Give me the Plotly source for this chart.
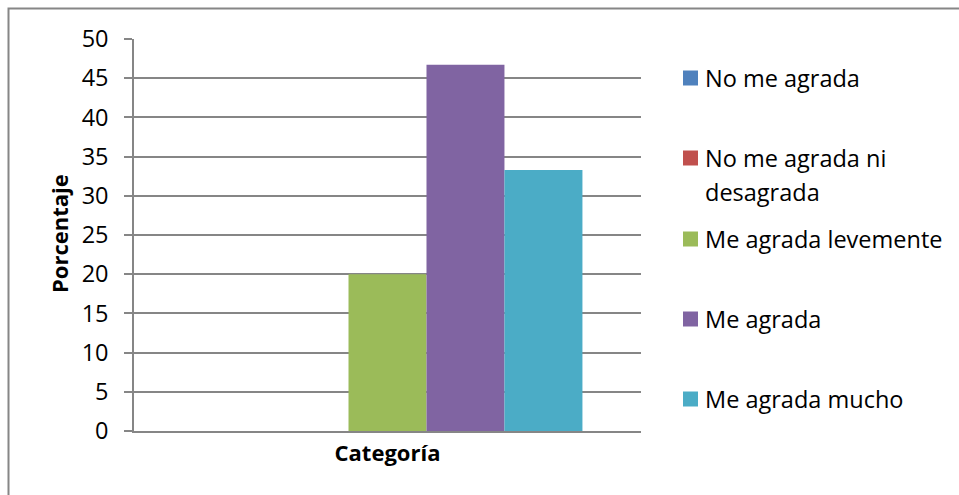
import plotly.graph_objects as go

# ---- data ----
categories = ["Categoría"]
series_names = [
    "No me agrada",
    "No me agrada ni\ndesagrada",
    "Me agrada levemente",
    "Me agrada",
    "Me agrada mucho",
]
series_values = [0, 0, 20, 46.7, 33.3]
series_colors = ["#4F81BD", "#C0504D", "#9BBB59", "#8064A2", "#4BACC6"]
y_ticks = [0, 5, 10, 15, 20, 25, 30, 35, 40, 45, 50]

# ---- layout geometry (pixels) ----
W, H = 959, 495
PL, PR, PT, PB = 134, 641, 39, 431   # plot-area edges
GRAY = "#868686"
FONT = "Open Sans"
FS = 23.5      # legend and tick labels
FS_B = 22      # bold titles


def px_x(px):
    return (px - PL) / (PR - PL)


def px_y(py):
    return (PB - py) / (PB - PT)


fig = go.Figure()
for name, val, col in zip(series_names, series_values, series_colors):
    fig.add_trace(go.Bar(
        x=categories, y=[val], name=name.replace("\n", " "),
        marker=dict(color=col, line=dict(width=0)),
        showlegend=False,
    ))

# ---- legend drawn beside the plot ----
shapes = []
annotations = []
legend_centers = [78, 158, 239, 319, 399]
line_step = 34
for name, col, cy in zip(series_names, series_colors, legend_centers):
    shapes.append(dict(
        type="rect", xref="paper", yref="paper",
        x0=px_x(683), x1=px_x(698), y0=px_y(cy + 7.5), y1=px_y(cy - 7.5),
        fillcolor=col, line=dict(width=0),
    ))
    for i, line in enumerate(name.split("\n")):
        annotations.append(dict(
            text=line, xref="paper", yref="paper",
            x=px_x(703), y=px_y(cy + i * line_step),
            xanchor="left", yanchor="middle", showarrow=False,
            font=dict(family=FONT, size=FS, color="#000000"),
        ))

# chart frame (top and left edges visible)
shapes.append(dict(
    type="rect", xref="paper", yref="paper", layer="below",
    x0=px_x(8.5), x1=px_x(1000), y0=px_y(560), y1=px_y(8.5),
    line=dict(color=GRAY, width=2), fillcolor="rgba(0,0,0,0)",
))

# y-axis title
annotations.append(dict(
    text="<b>Porcentaje</b>", xref="paper", yref="paper",
    x=px_x(59), y=px_y(234), textangle=-90,
    xanchor="center", yanchor="middle", showarrow=False,
    font=dict(family=FONT, size=FS_B, color="#000000"),
))

fig.update_layout(
    width=W, height=H,
    margin=dict(l=PL, r=W - PR, t=PT, b=H - PB, pad=0),
    paper_bgcolor="white", plot_bgcolor="white",
    barmode="group", bargap=0.231, bargroupgap=0,
    font=dict(family=FONT, size=FS, color="#000000"),
    shapes=shapes, annotations=annotations,
    showlegend=False,
)
fig.update_xaxes(
    type="category", range=[-0.5, 0.5],
    showline=True, linecolor=GRAY, linewidth=1.5,
    showgrid=False, ticks="", ticklabelstandoff=2,
    tickfont=dict(family=FONT, size=FS_B, color="#000000", weight="bold"),
)
fig.update_yaxes(
    range=[0, 50], tickvals=y_ticks, ticktext=[str(t) for t in y_ticks],
    showline=True, linecolor=GRAY, linewidth=1.5,
    showgrid=True, gridcolor=GRAY, gridwidth=1.5, zeroline=False,
    ticks="outside", ticklen=8, tickcolor=GRAY, tickwidth=1.5,
    ticklabelstandoff=11,
    tickfont=dict(family=FONT, size=FS, color="#000000"),
)

fig.write_html("out.html")
